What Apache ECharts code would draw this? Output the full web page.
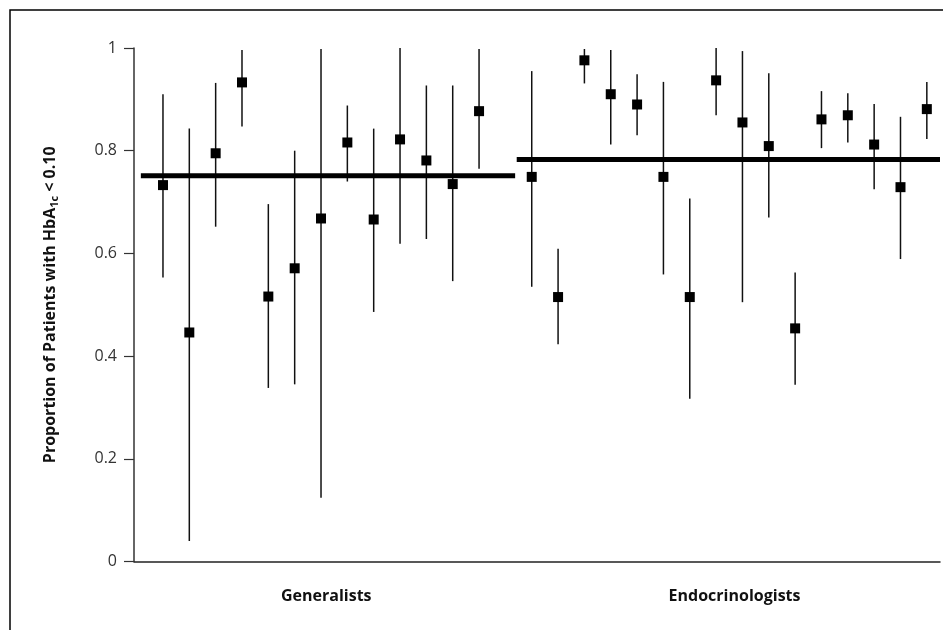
<!DOCTYPE html>
<html>
<head>
<meta charset="utf-8">
<script src="https://cdn.jsdelivr.net/npm/echarts@6/dist/echarts.min.js"></script>
<style>
  html, body { margin: 0; padding: 0; background: #fff; }
  #chart { width: 943px; height: 630px; }
</style>
</head>
<body>
<div id="chart"></div>
<script>
// group names and where their labels sit on the x scale
const groups = ["Generalists", "Endocrinologists"];
const groupLabelPos = [6.2, 21.7];

// generalists: point estimate, lower and upper bound
const genValue = [0.733, 0.446, 0.795, 0.933, 0.516, 0.571, 0.668, 0.816, 0.666, 0.822, 0.781, 0.735, 0.877];
const genLow   = [0.553, 0.040, 0.652, 0.847, 0.338, 0.345, 0.124, 0.740, 0.486, 0.619, 0.628, 0.546, 0.765];
const genHigh  = [0.910, 0.843, 0.932, 0.996, 0.696, 0.800, 0.998, 0.888, 0.843, 1.000, 0.927, 0.927, 0.998];

// endocrinologists
const endoValue = [0.749, 0.515, 0.976, 0.910, 0.890, 0.749, 0.515, 0.937, 0.855, 0.809, 0.454, 0.861, 0.869, 0.812, 0.729, 0.881];
const endoLow   = [0.535, 0.423, 0.931, 0.812, 0.830, 0.559, 0.317, 0.869, 0.505, 0.670, 0.344, 0.805, 0.816, 0.725, 0.589, 0.823];
const endoHigh  = [0.955, 0.609, 0.998, 0.996, 0.949, 0.934, 0.707, 1.000, 0.994, 0.951, 0.563, 0.916, 0.912, 0.891, 0.866, 0.934];

// group means and the x extent of each mean line
const groupMean = [0.751, 0.783];
const genSpan = [-0.84, 13.37];
const endoSpan = [13.43, 29.5];

const endoOffset = 14;

const genX = genValue.map((v, i) => i);
const endoX = endoValue.map((v, i) => i + endoOffset);

const points = genX.map((x, i) => [x, genValue[i]])
    .concat(endoX.map((x, i) => [x, endoValue[i]]));
const bars = genX.map((x, i) => [x, genLow[i], genHigh[i]])
    .concat(endoX.map((x, i) => [x, endoLow[i], endoHigh[i]]));

const chart = echarts.init(document.getElementById("chart"));

chart.setOption({
    animation: false,
    backgroundColor: "#fff",
    textStyle: { fontFamily: "Open Sans" },
    graphic: [{
        type: "rect",
        z: -10,
        shape: { x: 10, y: 10, width: 960, height: 650 },
        style: { fill: "none", stroke: "#000", lineWidth: 1.5 }
    }],
    grid: { left: 134, right: 0, top: 48, bottom: 68.5 },
    xAxis: {
        type: "value",
        min: -1.1,
        max: 29.5,
        interval: 0.1,
        axisLine: { show: true, onZero: false, lineStyle: { color: "#222", width: 1.5 } },
        axisTick: { show: false },
        splitLine: { show: false },
        axisLabel: {
            margin: 27,
            fontSize: 16,
            fontWeight: "bold",
            color: "#111",
            showMinLabel: true,
            showMaxLabel: true,
            formatter: v => {
                for (let i = 0; i < groups.length; i++) {
                    if (Math.abs(v - groupLabelPos[i]) < 0.01) return groups[i];
                }
                return "";
            }
        }
    },
    yAxis: {
        type: "value",
        min: 0,
        max: 1,
        interval: 0.2,
        name: "{a|Proportion of Patients with HbA}{s|1c}{a| < 0.10}",
        nameLocation: "middle",
        nameGap: 74,
        nameTextStyle: {
            rich: {
                a: { fontSize: 16, fontWeight: "bold", color: "#111", fontFamily: "Open Sans" },
                s: { fontSize: 11, fontWeight: "bold", color: "#111", fontFamily: "Open Sans", padding: [8, 0, 0, 0] }
            }
        },
        axisLine: { show: true, onZero: false, lineStyle: { color: "#333", width: 1.5 } },
        axisTick: { show: true, length: 10, lineStyle: { color: "#333", width: 1.2 } },
        splitLine: { show: false },
        axisLabel: { margin: 17, fontSize: 16, color: "#333" }
    },
    series: [
        {
            name: "interval",
            type: "custom",
            data: bars,
            renderItem: (params, api) => {
                const top = api.coord([api.value(0), api.value(2)]);
                const bottom = api.coord([api.value(0), api.value(1)]);
                return {
                    type: "line",
                    shape: { x1: top[0], y1: top[1], x2: bottom[0], y2: bottom[1] },
                    style: { stroke: "#111", lineWidth: 1.5 }
                };
            },
            z: 2
        },
        {
            name: "Generalists mean",
            type: "line",
            data: genSpan.map(x => [x, groupMean[0]]),
            symbol: "none",
            lineStyle: { color: "#000", width: 5 },
            z: 3
        },
        {
            name: "Endocrinologists mean",
            type: "line",
            data: endoSpan.map(x => [x, groupMean[1]]),
            symbol: "none",
            lineStyle: { color: "#000", width: 5 },
            z: 3
        },
        {
            name: "estimate",
            type: "scatter",
            data: points,
            symbol: "rect",
            symbolSize: 10,
            itemStyle: { color: "#000", opacity: 1 },
            z: 4
        }
    ]
});
</script>
</body>
</html>
